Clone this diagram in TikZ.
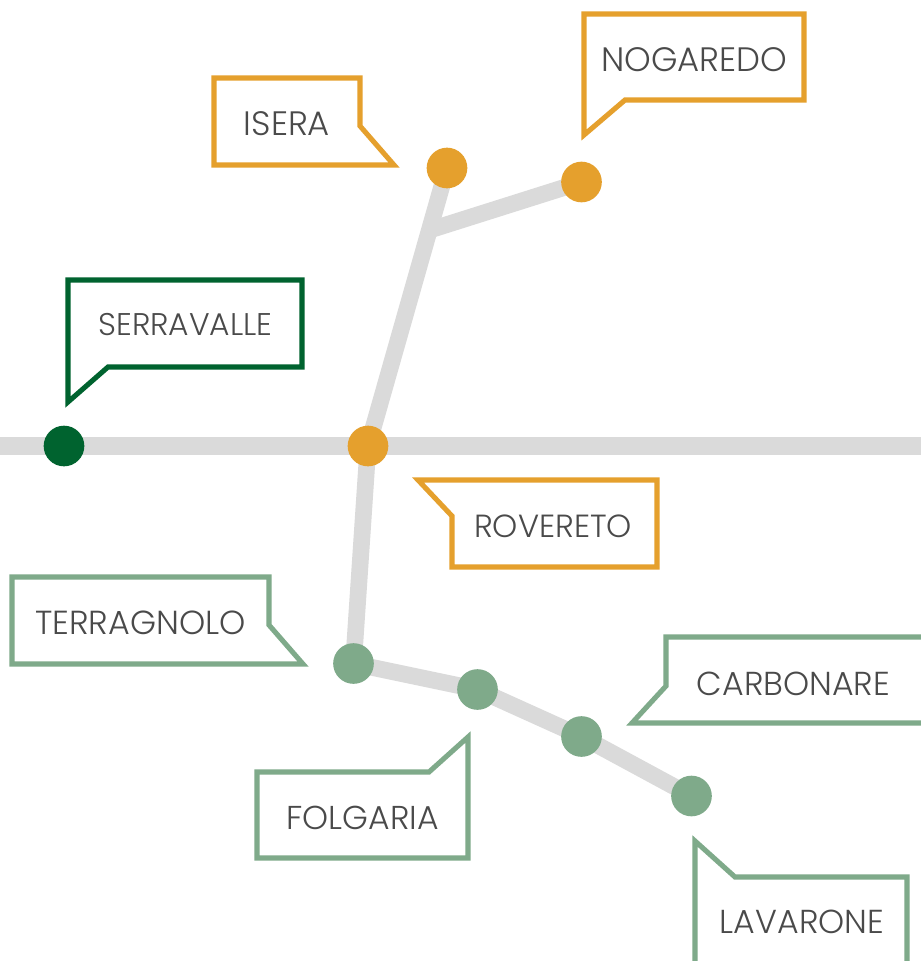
\documentclass[tikz,border=0pt]{standalone}
\usepackage{fontspec}
\setmainfont{Poppins Light}
\usetikzlibrary{backgrounds}
\definecolor{orangeC}{HTML}{E5A02D}
\definecolor{darkG}{HTML}{00632F}
\definecolor{softG}{HTML}{7FAA8A}
\definecolor{roadC}{HTML}{DADADA}
\definecolor{txtC}{HTML}{4A4A4A}
\tikzset{
 road/.style={draw=roadC,line width=12.5pt},
 mainroad/.style={draw=roadC,line width=13.5pt},
 dot/.style={circle,minimum size=30.5pt,inner sep=0pt,fill=#1},
 callout/.style={draw=#1,line width=3.8pt,miter limit=10},
 lbl/.style={text=txtC,font=\fontsize{#1}{28}\selectfont,inner sep=0pt,anchor=center},
 lbl/.default=25,
}
\begin{document}
\begin{tikzpicture}[x=0.75pt,y=-0.75pt]
\useasboundingbox (0,0) rectangle (921,961);
\coordinate (west) at (0,446);
\coordinate (east) at (921,446);
\coordinate (junction) at (433,229);
\node[dot=darkG] (serravalle) at (64,446) {};
\node[dot=orangeC] (rovereto) at (368,446) {};
\node[dot=orangeC] (isera) at (447,168) {};
\node[dot=orangeC] (nogaredo) at (581.5,182) {};
\node[dot=softG] (terragnolo) at (353.5,663.5) {};
\node[dot=softG] (folgaria) at (477.5,689.5) {};
\node[dot=softG] (carbonare) at (581.5,736.5) {};
\node[dot=softG] (lavarone) at (691.5,796) {};
\begin{scope}[on background layer]
\fill[white] (0,0) rectangle (921,961);
\path[mainroad] (west) -- (east);
\path[road] (rovereto.center) -- (isera.center);
\path[road] (junction) -- (nogaredo.center);
\path[road] (rovereto.center) -- (terragnolo.center);
\path[road] (terragnolo.center) -- (folgaria.center) -- (carbonare.center) -- (lavarone.center);
\end{scope}
\draw[callout=orangeC] (214,78) -- (360,78) -- (360,126) -- (394,165) -- (214,165) -- cycle;
\draw[callout=orangeC] (584,14) -- (804,14) -- (804,100) -- (625,100) -- (584,135) -- cycle;
\draw[callout=darkG] (68,280) -- (302,280) -- (302,367) -- (108,367) -- (68,402) -- cycle;
\draw[callout=orangeC] (418,480) -- (657,480) -- (657,567) -- (452,567) -- (452,516) -- cycle;
\draw[callout=softG] (12,577) -- (269,577) -- (269,625) -- (303,664) -- (12,664) -- cycle;
\draw[callout=softG] (666,637) -- (925,637) -- (925,723) -- (632,723) -- (666,686) -- cycle;
\draw[callout=softG] (257,772) -- (429,772) -- (468,737) -- (468,858) -- (257,858) -- cycle;
\draw[callout=softG] (695,841) -- (735,877) -- (907,877) -- (907,965) -- (695,965) -- cycle;
\node[lbl=25.4] (tIsera) at (287,124) {ISERA};
\node[lbl=25.4] (tNogaredo) at (694.5,60) {NOGAREDO};
\node[lbl=23.5] (tSerravalle) at (185.5,325) {SERRAVALLE};
\node[lbl=24] (tRovereto) at (553,526) {ROVERETO};
\node[lbl=25] (tTerragnolo) at (140.5,623) {TERRAGNOLO};
\node[lbl=24.9] (tCarbonare) at (793.5,684) {CARBONARE};
\node[lbl=24.8] (tFolgaria) at (362.5,818) {FOLGARIA};
\node[lbl=24.9] (tLavarone) at (802,922) {LAVARONE};
\end{tikzpicture}
\end{document}
